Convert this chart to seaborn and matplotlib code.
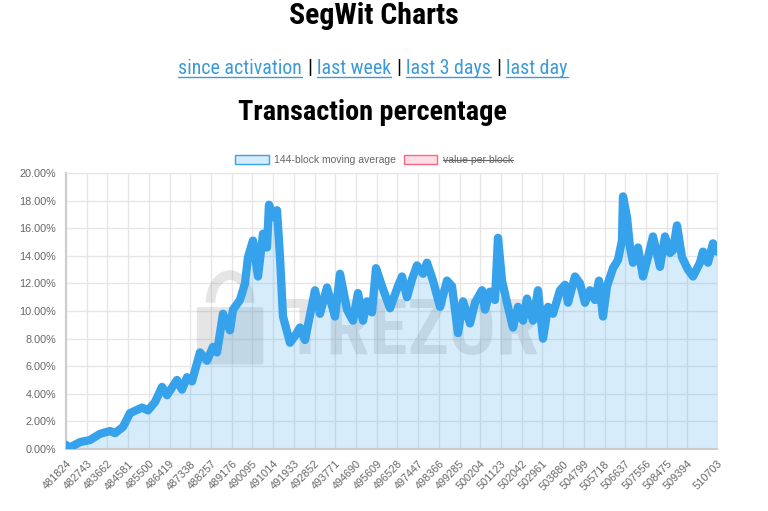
import matplotlib
matplotlib.use("Agg")
import matplotlib.pyplot as plt
from matplotlib import font_manager
from matplotlib.patches import Patch, FancyBboxPatch, Arc
from matplotlib.lines import Line2D
import pandas as pd
import seaborn as sns

# 144-block moving average of segwit transaction share
blocks = [481824, 481913, 482100, 482445, 482889, 483332, 483776, 483998, 484353,
          484663, 485195, 485462, 485772, 486083, 486304, 486748, 486970, 487192,
          487413, 487768, 488079, 488345, 488522, 488789, 489099, 489232, 489543,
          489764, 489898, 490119, 490341, 490563, 490740, 490829, 491007, 491184,
          491317, 491450, 491761, 491982, 492204, 492426, 492870, 493091, 493402,
          493757, 493979, 494289, 494555, 494777, 494999, 495176, 495398, 495576,
          495842, 496197, 496552, 496729, 496951, 497173, 497394, 497661, 497838,
          498104, 498415, 498725, 498947, 499213, 499435, 499745, 499967, 500278,
          500411, 500633, 500854, 500988, 501165, 501387, 501653, 501875, 502097,
          502274, 502540, 502762, 502984, 503206, 503427, 503738, 503960, 504093,
          504403, 504625, 504847, 505069, 505290, 505468, 505645, 505823, 506089,
          506311, 506488, 506533, 506710, 506843, 506976, 507198, 507420, 507642,
          507863, 508174, 508396, 508617, 508751, 508928, 509150, 509416, 509638,
          509948, 510081, 510303, 510525, 510703]
percent = [0.3, 0.1, 0.2, 0.5, 0.65, 1.1, 1.3, 1.15, 1.6,
           2.6, 3.0, 2.8, 3.4, 4.5, 3.9, 5.0, 4.3, 5.2,
           4.9, 7.0, 6.4, 7.4, 7.0, 9.8, 8.6, 10.1, 10.8,
           12.0, 13.9, 15.1, 12.5, 15.6, 14.6, 17.7, 16.8, 17.3,
           13.9, 9.6, 7.7, 8.2, 8.8, 7.9, 11.5, 9.8, 11.7,
           9.6, 12.7, 10.1, 9.3, 11.3, 9.3, 10.7, 9.9, 13.1,
           11.8, 10.2, 11.8, 12.5, 11.0, 12.3, 13.3, 12.7, 13.5,
           12.2, 10.3, 12.2, 11.8, 8.4, 10.7, 9.1, 10.6, 11.5,
           10.1, 11.4, 10.8, 15.3, 12.2, 10.6, 8.8, 10.3, 9.3,
           10.9, 9.3, 11.5, 8.0, 10.3, 9.8, 11.5, 11.9, 10.6,
           12.5, 12.0, 10.6, 11.5, 10.8, 12.2, 9.6, 11.8, 13.1,
           13.7, 15.1, 18.3, 16.8, 14.6, 13.5, 14.6, 12.5, 13.9,
           15.4, 13.2, 15.4, 14.2, 14.4, 16.2, 13.9, 13.0, 12.5,
           13.5, 14.3, 13.5, 14.9, 14.3]

tick_blocks = [481824, 482743, 483662, 484581, 485500, 486419, 487338, 488257,
               489176, 490095, 491014, 491933, 492852, 493771, 494690, 495609,
               496528, 497447, 498366, 499285, 500204, 501123, 502042, 502961,
               503880, 504799, 505718, 506637, 507556, 508475, 509394, 510703]
y_ticks = [0, 2, 4, 6, 8, 10, 12, 14, 16, 18, 20]
legend_labels = ["144-block moving average", "value per block"]
links = ["since activation", "last week", "last 3 days", "last day"]

sns.set_style("white")
names = {f.name for f in font_manager.fontManager.ttflist}
head_font = "Roboto"
for cand in ["Liberation Sans Narrow", "Roboto Condensed"]:
    if cand in names:
        head_font = cand
        break
plt.rcParams["font.family"] = ["Liberation Sans", "DejaVu Sans"]

W, H = 768, 511
fig = plt.figure(figsize=(W / 100, H / 100), dpi=100)
ax = fig.add_axes([66 / W, 1 - 449 / H, 651 / W, 276 / H])

blue = "#36a2eb"
df = pd.DataFrame({"block": blocks, "pct": percent})

# watermark
ax.text(0.53, 0.42, "TREZOR", transform=ax.transAxes, fontsize=56, weight="bold",
        family=head_font, color="#8c8c8c", alpha=0.22, ha="center", va="center", zorder=1)
ax.add_patch(FancyBboxPatch((0.205, 0.31), 0.094, 0.2, boxstyle="round,pad=0.004",
                            transform=ax.transAxes, fc="#8c8c8c", ec="none", alpha=0.22, zorder=1))
ax.add_patch(Arc((0.252, 0.53), 0.06, 0.2, theta1=0, theta2=180, transform=ax.transAxes,
                 color="#8c8c8c", alpha=0.22, lw=7, zorder=1))

ax.fill_between(df["block"], df["pct"], 0, color=blue, alpha=0.2, lw=0, zorder=2)
sns.lineplot(data=df, x="block", y="pct", ax=ax, color=blue, lw=6, zorder=3,
             solid_joinstyle="round", solid_capstyle="round")

ax.set_xlim(blocks[0], blocks[-1])
ax.set_ylim(0, 20)
ax.set_xticks(tick_blocks)
ax.set_xticklabels([str(b) for b in tick_blocks], rotation=46, ha="right",
                   rotation_mode="anchor")
ax.set_yticks(y_ticks)
ax.set_yticklabels([f"{v:.2f}%" for v in y_ticks])
ax.set_xlabel("")
ax.set_ylabel("")
ax.grid(True, color="#e6e6e6", lw=1)
ax.set_axisbelow(True)
ax.tick_params(length=5, color="#e6e6e6", labelsize=7.8, labelcolor="#666666", pad=2)
for side in ["top", "right"]:
    ax.spines[side].set_color("#e6e6e6")
for side in ["left", "bottom"]:
    ax.spines[side].set_color("#cccccc")
    ax.spines[side].set_linewidth(1.5)

# legend
handles = [Patch(fc=(54 / 255, 162 / 255, 235 / 255, 0.2), ec=blue, lw=1),
           Patch(fc=(255 / 255, 99 / 255, 132 / 255, 0.2), ec="#ff6384", lw=1)]
leg = fig.legend(handles, legend_labels, loc="center", bbox_to_anchor=(374 / W, 1 - 160 / H),
                 ncol=2, frameon=False, fontsize=7.5, labelcolor="#666666",
                 handlelength=3.2, handleheight=0.9, columnspacing=0.8, handletextpad=0.5)

# page headings
fig.text(374 / W, 1 - 16 / H, "SegWit Charts", fontsize=21.5, weight="bold",
         family=head_font, color="black", ha="center", va="center")
fig.text(373 / W, 1 - 113 / H, "Transaction percentage", fontsize=20.3, weight="bold",
         family=head_font, color="black", ha="center", va="center")

link_color = "#3d9ad8"
pieces = []
for i, lk in enumerate(links):
    pieces.append((lk, link_color))
    if i < len(links) - 1:
        pieces.append(("|", "black"))
texts = [fig.text(0, 1 - 68 / H, s, fontsize=14.3, family=head_font, color=c,
                  ha="left", va="center") for s, c in pieces]

fig.canvas.draw()
r = fig.canvas.get_renderer()
gap = 5
widths = [t.get_window_extent(r).width for t in texts]
total = sum(widths) + gap * (len(widths) - 1)
x = 373 - total / 2
for t, w, (s, c) in zip(texts, widths, pieces):
    t.set_x(x / W)
    if c == link_color:
        yb = 1 - 77 / H
        fig.add_artist(Line2D([x / W, (x + w) / W], [yb, yb], color=link_color, lw=1))
    x += w + gap

# struck-out hidden dataset label
fig.canvas.draw()
bb = leg.get_texts()[1].get_window_extent(r)
ym = (bb.y0 + bb.y1) / 2 / H
fig.add_artist(Line2D([bb.x0 / W, bb.x1 / W], [ym, ym], color="#666666", lw=0.8))

fig.savefig("out.png", dpi=100)
